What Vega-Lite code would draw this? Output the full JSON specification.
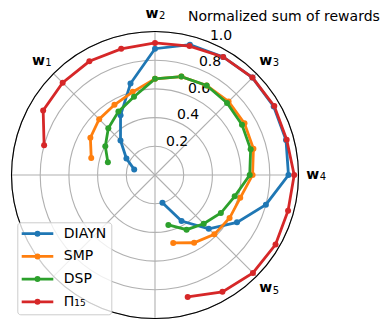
{
  "$schema": "https://vega.github.io/schema/vega-lite/v6.json",
  "width": 287,
  "height": 287,
  "autosize": "none",
  "padding": {"left": 11.5, "top": 31.5, "right": 90.5, "bottom": 3.5},
  "config": {"view": {"stroke": null}, "font": "DejaVu Sans", "text": {"font": "DejaVu Sans"}},
  "datasets": {
    "title": [{"t": "Normalized sum of rewards"}],
    "rings": [{"r": 0.2, "c": "grid"}, {"r": 0.4, "c": "grid"}, {"r": 0.6, "c": "grid"}, {"r": 0.8, "c": "grid"}, {"r": 1.0, "c": "grid"}, {"r": 1.0, "c": "spine"}],
    "spokes": [{"deg": 0}, {"deg": 45}, {"deg": 90}, {"deg": 135}, {"deg": 180}, {"deg": 225}, {"deg": 270}, {"deg": 315}],
    "ticks": [{"v": 0.2}, {"v": 0.4}, {"v": 0.6}, {"v": 0.8}, {"v": 1.0}],
    "wlabels": [{"k": "1", "deg": 135}, {"k": "2", "deg": 90}, {"k": "3", "deg": 45}, {"k": "4", "deg": 0}, {"k": "5", "deg": 315}],
    "series": [
      {"s": "DIAYN", "deg": 165, "r": 0.15}, {"s": "DIAYN", "deg": 150, "r": 0.23}, {"s": "DIAYN", "deg": 135, "r": 0.34}, {"s": "DIAYN", "deg": 120, "r": 0.48}, {"s": "DIAYN", "deg": 105, "r": 0.66}, {"s": "DIAYN", "deg": 90, "r": 0.88}, {"s": "DIAYN", "deg": 75, "r": 0.94}, {"s": "DIAYN", "deg": 60, "r": 0.95}, {"s": "DIAYN", "deg": 45, "r": 0.96}, {"s": "DIAYN", "deg": 30, "r": 0.955}, {"s": "DIAYN", "deg": 15, "r": 0.945}, {"s": "DIAYN", "deg": 0, "r": 0.93}, {"s": "DIAYN", "deg": -15, "r": 0.8}, {"s": "DIAYN", "deg": -30, "r": 0.66}, {"s": "DIAYN", "deg": -45, "r": 0.53}, {"s": "DIAYN", "deg": -60, "r": 0.37}, {"s": "DIAYN", "deg": -75, "r": 0.2},
      {"s": "SMP", "deg": 165, "r": 0.46}, {"s": "SMP", "deg": 150, "r": 0.52}, {"s": "SMP", "deg": 135, "r": 0.55}, {"s": "SMP", "deg": 120, "r": 0.565}, {"s": "SMP", "deg": 105, "r": 0.6}, {"s": "SMP", "deg": 90, "r": 0.67}, {"s": "SMP", "deg": 75, "r": 0.71}, {"s": "SMP", "deg": 60, "r": 0.72}, {"s": "SMP", "deg": 45, "r": 0.725}, {"s": "SMP", "deg": 30, "r": 0.72}, {"s": "SMP", "deg": 15, "r": 0.71}, {"s": "SMP", "deg": 0, "r": 0.68}, {"s": "SMP", "deg": -15, "r": 0.615}, {"s": "SMP", "deg": -30, "r": 0.6}, {"s": "SMP", "deg": -45, "r": 0.585}, {"s": "SMP", "deg": -60, "r": 0.545}, {"s": "SMP", "deg": -75, "r": 0.49},
      {"s": "DSP", "deg": 165, "r": 0.34}, {"s": "DSP", "deg": 150, "r": 0.4}, {"s": "DSP", "deg": 135, "r": 0.46}, {"s": "DSP", "deg": 120, "r": 0.51}, {"s": "DSP", "deg": 105, "r": 0.565}, {"s": "DSP", "deg": 90, "r": 0.67}, {"s": "DSP", "deg": 75, "r": 0.71}, {"s": "DSP", "deg": 60, "r": 0.72}, {"s": "DSP", "deg": 45, "r": 0.71}, {"s": "DSP", "deg": 30, "r": 0.7}, {"s": "DSP", "deg": 15, "r": 0.69}, {"s": "DSP", "deg": 0, "r": 0.66}, {"s": "DSP", "deg": -15, "r": 0.575}, {"s": "DSP", "deg": -30, "r": 0.53}, {"s": "DSP", "deg": -45, "r": 0.48}, {"s": "DSP", "deg": -60, "r": 0.44}, {"s": "DSP", "deg": -75, "r": 0.36},
      {"s": "Π₁₅", "deg": 165, "r": 0.8}, {"s": "Π₁₅", "deg": 150, "r": 0.9}, {"s": "Π₁₅", "deg": 135, "r": 0.91}, {"s": "Π₁₅", "deg": 120, "r": 0.915}, {"s": "Π₁₅", "deg": 105, "r": 0.91}, {"s": "Π₁₅", "deg": 90, "r": 0.92}, {"s": "Π₁₅", "deg": 75, "r": 0.93}, {"s": "Π₁₅", "deg": 60, "r": 0.95}, {"s": "Π₁₅", "deg": 45, "r": 0.96}, {"s": "Π₁₅", "deg": 30, "r": 0.96}, {"s": "Π₁₅", "deg": 15, "r": 0.95}, {"s": "Π₁₅", "deg": 0, "r": 0.97}, {"s": "Π₁₅", "deg": -15, "r": 0.96}, {"s": "Π₁₅", "deg": -30, "r": 0.97}, {"s": "Π₁₅", "deg": -45, "r": 0.965}, {"s": "Π₁₅", "deg": -60, "r": 0.94}, {"s": "Π₁₅", "deg": -75, "r": 0.88}
    ]
  },
  "layer": [
    {
      "data": {"name": "spokes"},
      "transform": [{"calculate": "cos(datum.deg*PI/180)", "as": "ex"}, {"calculate": "sin(datum.deg*PI/180)", "as": "ey"}, {"calculate": "0", "as": "o"}],
      "mark": {"type": "rule", "stroke": "#b0b0b0", "strokeWidth": 1.1},
      "encoding": {
        "x": {"field": "o", "type": "quantitative", "scale": {"domain": [-1, 1], "nice": false, "zero": false}, "axis": null},
        "y": {"field": "o", "type": "quantitative", "scale": {"domain": [-1, 1], "nice": false, "zero": false}, "axis": null},
        "x2": {"field": "ex"},
        "y2": {"field": "ey"}
      }
    },
    {
      "data": {"name": "rings"},
      "transform": [{"calculate": "0", "as": "o"}],
      "mark": {"type": "point", "shape": "circle", "filled": false, "opacity": 1},
      "encoding": {
        "x": {"field": "o", "type": "quantitative", "scale": {"domain": [-1, 1], "nice": false, "zero": false}, "axis": null},
        "y": {"field": "o", "type": "quantitative", "scale": {"domain": [-1, 1], "nice": false, "zero": false}, "axis": null},
        "size": {"field": "r", "type": "quantitative", "scale": {"type": "pow", "exponent": 2, "domain": [0, 1], "range": [0, 82369], "zero": true}, "legend": null},
        "stroke": {"field": "c", "type": "nominal", "scale": {"domain": ["grid", "spine"], "range": ["#b0b0b0", "black"]}, "legend": null},
        "strokeWidth": {"value": 1.1}
      }
    },
    {
      "data": {"name": "ticks"},
      "transform": [{"calculate": "datum.v*cos(67.5*PI/180)", "as": "px"}, {"calculate": "datum.v*sin(67.5*PI/180)", "as": "py"}],
      "mark": {"type": "text", "align": "left", "baseline": "alphabetic", "dy": -2.5, "fontSize": 14, "color": "black"},
      "encoding": {
        "x": {"field": "px", "type": "quantitative", "scale": {"domain": [-1, 1], "nice": false, "zero": false}, "axis": null},
        "y": {"field": "py", "type": "quantitative", "scale": {"domain": [-1, 1], "nice": false, "zero": false}, "axis": null},
        "text": {"field": "v", "type": "quantitative", "format": ".1f"}
      }
    },
    {
      "data": {"name": "series"},
      "transform": [{"calculate": "datum.r*cos(datum.deg*PI/180)", "as": "px"}, {"calculate": "datum.r*sin(datum.deg*PI/180)", "as": "py"}],
      "mark": {"type": "line", "strokeWidth": 2.8},
      "encoding": {
        "x": {"field": "px", "type": "quantitative", "scale": {"domain": [-1, 1], "nice": false, "zero": false}, "axis": null},
        "y": {"field": "py", "type": "quantitative", "scale": {"domain": [-1, 1], "nice": false, "zero": false}, "axis": null},
        "order": {"field": "deg", "type": "quantitative", "sort": "descending"},
        "color": {
          "field": "s", "type": "nominal",
          "scale": {"domain": ["DIAYN", "SMP", "DSP", "Π₁₅"], "range": ["#1f77b4", "#ff7f0e", "#2ca02c", "#d62728"]},
          "legend": {
            "title": null, "orient": "none", "legendX": 5.8, "legendY": 190.8, "padding": 4.4,
            "fillColor": "rgba(255,255,255,0.8)", "strokeColor": "#cccccc", "cornerRadius": 3,
            "symbolType": "M-3.16,0H3.16M-0.32,0A0.32,0.32,0,1,1,0.32,0A0.32,0.32,0,1,1,-0.32,0Z",
            "symbolSize": 100, "symbolStrokeWidth": 2.8, "symbolOffset": 8.8, "labelOffset": 19.3,
            "labelFontSize": 14, "labelFont": "DejaVu Sans", "labelColor": "black", "rowPadding": 6.7, "labelLimit": 200,
            "encode": {"symbols": {"update": {"stroke": {"scale": "color", "field": "value"}, "fill": {"scale": "color", "field": "value"}, "strokeWidth": {"value": 2.8}, "opacity": {"value": 1}}}}
          }
        }
      }
    },
    {
      "data": {"name": "series"},
      "transform": [{"calculate": "datum.r*cos(datum.deg*PI/180)", "as": "px"}, {"calculate": "datum.r*sin(datum.deg*PI/180)", "as": "py"}],
      "mark": {"type": "circle", "size": 36, "opacity": 1},
      "encoding": {
        "x": {"field": "px", "type": "quantitative", "scale": {"domain": [-1, 1], "nice": false, "zero": false}, "axis": null},
        "y": {"field": "py", "type": "quantitative", "scale": {"domain": [-1, 1], "nice": false, "zero": false}, "axis": null},
        "color": {"field": "s", "type": "nominal", "scale": {"domain": ["DIAYN", "SMP", "DSP", "Π₁₅"], "range": ["#1f77b4", "#ff7f0e", "#2ca02c", "#d62728"]}}
      }
    },
    {
      "data": {"name": "wlabels"},
      "transform": [{"calculate": "1.12*cos(datum.deg*PI/180)", "as": "px"}, {"calculate": "1.12*sin(datum.deg*PI/180)", "as": "py"}],
      "mark": {"type": "text", "text": "w", "fontWeight": "bold", "fontSize": 14, "align": "right", "baseline": "alphabetic", "dx": 3.5, "dy": 3.5, "color": "black"},
      "encoding": {
        "x": {"field": "px", "type": "quantitative", "scale": {"domain": [-1, 1], "nice": false, "zero": false}, "axis": null},
        "y": {"field": "py", "type": "quantitative", "scale": {"domain": [-1, 1], "nice": false, "zero": false}, "axis": null}
      }
    },
    {
      "data": {"name": "wlabels"},
      "transform": [{"calculate": "1.12*cos(datum.deg*PI/180)", "as": "px"}, {"calculate": "1.12*sin(datum.deg*PI/180)", "as": "py"}],
      "mark": {"type": "text", "fontSize": 10, "align": "left", "baseline": "alphabetic", "dx": 4, "dy": 5, "color": "black"},
      "encoding": {
        "x": {"field": "px", "type": "quantitative", "scale": {"domain": [-1, 1], "nice": false, "zero": false}, "axis": null},
        "y": {"field": "py", "type": "quantitative", "scale": {"domain": [-1, 1], "nice": false, "zero": false}, "axis": null},
        "text": {"field": "k", "type": "nominal"}
      }
    },
    {
      "data": {"name": "title"},
      "mark": {"type": "text", "fontSize": 14, "align": "left", "baseline": "alphabetic", "color": "black"},
      "encoding": {
        "x": {"datum": 0.23, "type": "quantitative", "scale": {"domain": [-1, 1], "nice": false, "zero": false}, "axis": null},
        "y": {"datum": 1.073, "type": "quantitative", "scale": {"domain": [-1, 1], "nice": false, "zero": false}, "axis": null},
        "text": {"field": "t", "type": "nominal"}
      }
    }
  ]
}
